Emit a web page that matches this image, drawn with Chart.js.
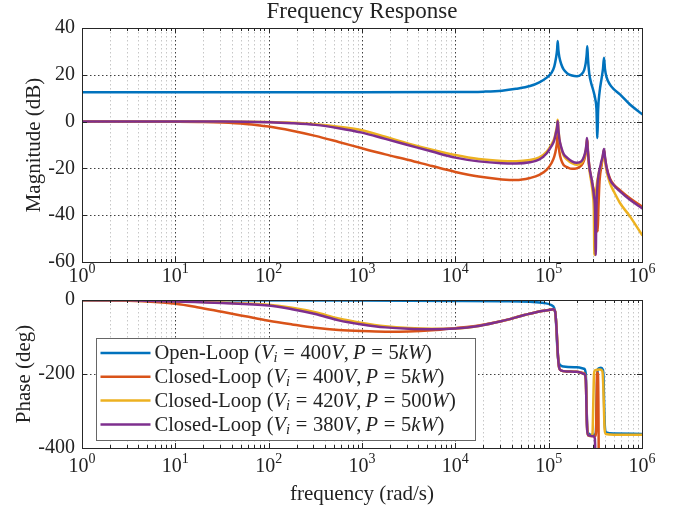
<!DOCTYPE html>
<html lang="en">

<head>
    <meta charset="UTF-8">
    <title>Frequency Response</title>
    <script src="https://cdn.jsdelivr.net/npm/chart.js"></script>
    <style>
        body {
            margin: 0;
            background-color: #FFFFFF;
        }

        #figure {
            position: relative;
            width: 679px;
            height: 513px;
            background-color: #FFFFFF;
        }

        #magCanvas {
            position: absolute;
            left: 0;
            top: 0;
        }

        #phaseCanvas {
            position: absolute;
            left: 0;
            top: 290px;
        }
    </style>
</head>

<body>
    <div id="figure">
        <canvas id="magCanvas" width="679" height="290"></canvas>
        <canvas id="phaseCanvas" width="679" height="223"></canvas>
    </div>

    <script>
        // axis ticks
        const decades = [0, 1, 2, 3, 4, 5, 6];
        const magTicks = [40, 20, 0, -20, -40, -60];
        const phaseTicks = [0, -200, -400];

        const seriesNames = [
            'Open-Loop $(V_i = 400V, P = 5kW)$',
            'Closed-Loop $(V_i = 400V, P = 5kW)$',
            'Closed-Loop $(V_i = 420V, P = 500W)$',
            'Closed-Loop $(V_i = 380V, P = 5kW)$'
        ];
        const seriesColors = ['#0072BD', '#D95319', '#EDB120', '#7E2F8E'];

        // ---- magnitude (dB) ----
        const olMagW = [1, 10, 100, 1e3, 1e4, 2.0e4, 3.16e4, 4.47e4, 6.31e4, 7.94e4, 9.55e4, 1.07e5, 1.148e5, 1.202e5, 1.23e5,
            1.25e5, 1.271e5, 1.303e5, 1.365e5, 1.445e5, 1.585e5, 1.778e5, 1.995e5, 2.239e5, 2.399e5, 2.495e5, 2.553e5, 2.594e5,
            2.636e5, 2.723e5, 2.851e5, 3.013e5, 3.162e5, 3.251e5, 3.327e5, 3.388e5, 3.508e5, 3.698e5, 3.819e5, 3.917e5, 4.009e5,
            4.169e5, 4.539e5, 5.012e5, 5.808e5, 7.43e5, 1e6];
        const olMag = [12.5, 12.5, 12.5, 12.5, 12.6, 12.8, 13.2, 14.0, 15.2, 16.8, 18.8, 20.8, 23.5, 27.5, 30.5,
            34.4, 30.5, 27.5, 24.5, 22.3, 20.6, 19.7, 19.4, 20.2, 22.0, 25.0, 28.5, 32.2,
            27.0, 20.5, 16.5, 13.2, 9.5, 5.5, -7.0, 5.0, 12.5, 18.7, 22.5, 27.3, 22.5,
            19.0, 15.8, 13.8, 11.6, 7.3, 3.2];

        const cl400MagW = [1, 10, 20, 31.6, 56.2, 100, 178, 316, 562, 1000, 1778, 3162, 5623, 1e4, 1.778e4, 3.162e4, 4.467e4,
            6.31e4, 7.94e4, 9.55e4, 1.07e5, 1.148e5, 1.202e5, 1.23e5, 1.25e5, 1.271e5, 1.303e5, 1.365e5, 1.445e5, 1.585e5,
            1.778e5, 1.995e5, 2.239e5, 2.399e5, 2.495e5, 2.553e5, 2.594e5, 2.636e5, 2.723e5, 2.851e5, 3.013e5, 3.162e5,
            3.273e5, 3.35e5, 3.412e5, 3.508e5, 3.698e5, 3.819e5, 3.917e5, 4.009e5, 4.169e5, 4.539e5, 5.012e5, 5.808e5,
            7.43e5, 1e6];
        const cl400Mag = [0, -0.05, -0.15, -0.4, -1.0, -2.1, -3.9, -6.1, -8.7, -11.4, -14.0, -16.4, -19.0, -21.5, -23.5, -24.7, -25.0,
            -24.1, -22.8, -20.5, -17.8, -15.0, -11.5, -8.5, -4.5, -8.5, -13.0, -16.5, -18.5, -19.5,
            -20.2, -20.0, -18.8, -16.5, -13.5, -10.5, -8.0, -12.5, -19.0, -24.0, -28.5, -32.5,
            -37, -47, -37, -25.5, -18.5, -15.0, -12.0, -15.5, -19.5, -24.3, -27.0, -29.3,
            -32.8, -36.3];

        const cl420MagW = [1, 31.6, 100, 178, 316, 562, 1000, 1778, 3162, 5623, 1e4, 1.778e4, 3.162e4, 4.467e4, 6.31e4,
            7.94e4, 9.55e4, 1.07e5, 1.148e5, 1.202e5, 1.23e5, 1.25e5, 1.271e5, 1.303e5, 1.365e5, 1.445e5, 1.585e5, 1.778e5,
            1.995e5, 2.239e5, 2.399e5, 2.495e5, 2.541e5, 2.576e5, 2.618e5, 2.723e5, 2.891e5, 2.992e5, 3.048e5, 3.09e5,
            3.141e5, 3.236e5, 3.467e5, 3.606e5, 3.784e5, 3.917e5, 4.009e5, 4.169e5, 4.539e5, 5.012e5, 5.808e5, 7.43e5, 1e6];
        const cl420Mag = [0, 0, -0.2, -0.5, -1.1, -2.2, -3.7, -6.5, -9.4, -12.0, -14.3, -16.0, -16.8, -16.9, -16.4,
            -15.3, -12.8, -9.8, -7.3, -3.8, -1.8, 0.8, -3.0, -7.5, -11.5, -14.5, -16.3, -17.8,
            -18.4, -17.8, -15.5, -12.5, -10.0, -7.5, -12.0, -20.0, -27.0, -32, -38, -57,
            -38, -29, -21.5, -19.5, -15.5, -12.5, -16.5, -21.0, -26.3, -30.0, -34.8, -40.5, -48.4];

        const cl380MagW = [1, 31.6, 100, 178, 316, 562, 1000, 1778, 3162, 5623, 1e4, 1.778e4, 3.162e4, 4.467e4, 6.31e4,
            7.94e4, 9.55e4, 1.07e5, 1.148e5, 1.202e5, 1.23e5, 1.25e5, 1.271e5, 1.303e5, 1.365e5, 1.445e5, 1.585e5, 1.778e5,
            1.995e5, 2.239e5, 2.399e5, 2.495e5, 2.541e5, 2.576e5, 2.618e5, 2.723e5, 2.891e5, 3.062e5, 3.141e5, 3.192e5,
            3.243e5, 3.327e5, 3.606e5, 3.784e5, 3.917e5, 4.009e5, 4.169e5, 4.539e5, 5.012e5, 5.808e5, 7.43e5, 1e6];
        const cl380Mag = [0, 0, -0.3, -0.7, -1.4, -2.8, -4.7, -7.4, -10.1, -12.8, -15.4, -17.0, -17.8, -17.9, -17.4,
            -16.2, -13.5, -10.5, -8.0, -4.5, -2.5, 0.1, -3.5, -7.5, -11.0, -13.8, -15.5, -17.0,
            -17.6, -17.0, -14.8, -12.0, -9.5, -7.0, -11.5, -19.0, -24.8, -32.0, -38, -57,
            -38, -27.7, -18.4, -15.0, -11.7, -15.0, -19.5, -24.8, -27.3, -29.8, -33.4, -37.0];

        // ---- phase (deg) ----
        const olPhW = [1, 1000, 1e4, 3.162e4, 6.31e4, 8.91e4, 1.07e5, 1.148e5, 1.189e5, 1.216e5, 1.245e5, 1.274e5, 1.318e5,
            1.445e5, 1.995e5, 2.399e5, 2.5e5, 2.541e5, 2.582e5, 2.63e5, 2.818e5, 3.162e5, 3.221e5, 3.273e5, 3.327e5,
            3.388e5, 3.631e5, 3.802e5, 3.873e5, 3.936e5, 4.009e5, 4.121e5, 5.012e5, 1e6];
        const olPh = [-0.5, -1.5, -2.5, -3.5, -5, -8, -14, -22, -45, -90, -140, -165, -175,
            -180, -182, -186, -200, -270, -340, -358, -364, -364, -350, -275, -200,
            -186, -183, -188, -210, -290, -345, -358, -361, -362];

        const cl400PhW = [1, 3.16, 10, 17.8, 31.6, 56.2, 100, 178, 316, 562, 1000, 1778, 3162, 5623, 1e4, 1.778e4,
            3.162e4, 5.623e4, 7.94e4, 1e5, 1.122e5, 1.175e5, 1.216e5, 1.25e5, 1.288e5, 1.349e5, 1.585e5, 1.995e5,
            2.399e5, 2.5e5, 2.547e5, 2.594e5, 2.661e5, 3.162e5, 3.221e5, 3.258e5, 3.296e5, 3.373e5, 3.412e5, 3.451e5,
            3.508e5, 3.802e5, 3.917e5, 4.169e5, 1e6];
        const cl400Ph = [-0.5, -2, -10, -20, -32, -44, -56, -66, -75, -81, -84, -85.5, -85, -82, -76, -69,
            -57, -40, -31, -27, -25, -32, -80, -140, -180, -190, -193, -194,
            -198, -215, -290, -350, -366, -368, -355, -270, -195, -200, -280, -480,
            -545, -550, -640, -725, -730];

        const cl420PhW = [1, 3.16, 10, 31.6, 100, 178, 316, 562, 1000, 1778, 3162, 5623, 1e4, 1.778e4, 3.162e4,
            5.623e4, 7.94e4, 1e5, 1.122e5, 1.175e5, 1.216e5, 1.25e5, 1.288e5, 1.349e5, 1.585e5, 1.995e5, 2.399e5,
            2.5e5, 2.541e5, 2.582e5, 2.661e5, 2.884e5, 2.951e5, 3.006e5, 3.062e5, 3.126e5, 3.548e5, 3.758e5, 3.846e5,
            3.917e5, 3.981e5, 4.093e5, 5.012e5, 1e6];
        const cl420Ph = [-0.3, -1, -3.5, -7, -13, -21, -33, -50, -62, -71, -76, -78, -77, -70, -57,
            -40, -31, -27, -25, -32, -80, -140, -180, -190, -193, -194, -200,
            -215, -290, -350, -366, -368, -360, -280, -200, -190, -188, -192, -230,
            -300, -350, -362, -364, -364];

        const cl380PhW = [1, 3.16, 10, 31.6, 100, 178, 316, 562, 1000, 1778, 3162, 5623, 1e4, 1.778e4, 3.162e4,
            5.623e4, 7.94e4, 1e5, 1.122e5, 1.175e5, 1.216e5, 1.25e5, 1.288e5, 1.349e5, 1.585e5, 1.995e5, 2.399e5,
            2.5e5, 2.541e5, 2.582e5, 2.661e5, 3.02e5, 3.126e5, 3.177e5, 3.236e5, 3.548e5, 3.846e5, 3.917e5, 4.009e5, 1e6];
        const cl380Ph = [-0.3, -1, -4, -8, -15, -25, -38, -55, -66, -74, -78, -79, -77, -70, -57,
            -40, -31, -27, -25, -32, -80, -140, -180, -190, -193, -194, -200,
            -215, -290, -350, -366, -368, -375, -450, -540, -548, -560, -640, -720, -730];

        const FONT = '"Liberation Serif", "Times New Roman", serif';
        const TEXT_COLOR = '#222222';

        function toPoints(w, v) {
            return w.map((x, i) => ({ x: x, y: v[i] }));
        }

        function makeDatasets(pairs) {
            return pairs.map((p, i) => ({
                label: seriesNames[i],
                data: toPoints(p[0], p[1]),
                borderColor: seriesColors[i],
                order: 4 - i   // later series on top
            }));
        }

        // tiny TeX-ish text: $...$ switches to math (letters italic, own spacing), _x subscript, ^x superscript
        function richRuns(str, size) {
            const runs = [];
            let math = false;
            for (let i = 0; i < str.length; i++) {
                const c = str[i];
                if (c === '$') { math = !math; continue; }
                if (math && c === ' ') continue;
                if (c === '_' || c === '^') {
                    const n = str[++i];
                    runs.push({
                        t: n, italic: math && /[A-Za-z]/.test(n), size: size * 0.7,
                        dy: c === '_' ? size * 0.22 : -size * 0.45, pre: 0, post: 0
                    });
                    continue;
                }
                let pre = 0, post = 0;
                if (math && c === '=') { pre = size * 0.28; post = size * 0.28; }
                if (math && c === ',') { post = size * 0.2; }
                runs.push({ t: c, italic: math && /[A-Za-z]/.test(c), size: size, dy: 0, pre: pre, post: post });
            }
            return runs;
        }

        function runFont(r) {
            return (r.italic ? 'italic ' : '') + r.size + 'px ' + FONT;
        }

        function drawRich(ctx, str, x, y, size, align) {
            const runs = richRuns(str, size);
            let total = 0;
            runs.forEach(r => {
                ctx.font = runFont(r);
                r.w = ctx.measureText(r.t).width;
                total += r.w + r.pre + r.post;
            });
            let cx = x;
            if (align === 'center') cx = x - total / 2;
            if (align === 'right') cx = x - total;
            ctx.textAlign = 'left';
            runs.forEach(r => {
                ctx.font = runFont(r);
                cx += r.pre;
                ctx.fillText(r.t, cx, y + r.dy);
                cx += r.w + r.post;
            });
        }

        function dottedLine(ctx, x1, y1, x2, y2, color, dash) {
            ctx.beginPath();
            ctx.strokeStyle = color;
            ctx.lineWidth = 1;
            ctx.setLineDash(dash);
            ctx.moveTo(x1, y1);
            ctx.lineTo(x2, y2);
            ctx.stroke();
        }

        // MATLAB style box, grid, ticks and labels
        function axesPlugin(cfg) {
            return {
                id: 'matlabAxes',
                beforeDatasetsDraw(chart) {
                    const { ctx, chartArea: a, scales: { x, y } } = chart;
                    ctx.save();
                    // minor x grid
                    for (let e = 0; e < 6; e++) {
                        for (let k = 2; k <= 9; k++) {
                            const px = Math.round(x.getPixelForValue(k * Math.pow(10, e))) + 0.5;
                            dottedLine(ctx, px, a.top, px, a.bottom, 'rgba(0,0,0,0.22)', [1.5, 2.5]);
                        }
                    }
                    // major grid
                    decades.slice(1, -1).forEach(e => {
                        const px = Math.round(x.getPixelForValue(Math.pow(10, e))) + 0.5;
                        dottedLine(ctx, px, a.top, px, a.bottom, 'rgba(0,0,0,0.75)', [1.5, 2.5]);
                    });
                    cfg.yTicks.slice(1, -1).forEach(v => {
                        const py = Math.round(y.getPixelForValue(v)) + 0.5;
                        dottedLine(ctx, a.left, py, a.right, py, 'rgba(0,0,0,0.75)', [1.5, 2.5]);
                    });
                    ctx.restore();
                },
                afterDraw(chart) {
                    const { ctx, chartArea: a, scales: { x, y } } = chart;
                    ctx.save();
                    ctx.setLineDash([]);
                    ctx.strokeStyle = '#262626';
                    ctx.lineWidth = 1;

                    // tick marks on all four sides, pointing inward
                    ctx.beginPath();
                    for (let e = 0; e < 6; e++) {
                        for (let k = 1; k <= 9; k++) {
                            const px = Math.round(x.getPixelForValue(k * Math.pow(10, e))) + 0.5;
                            const len = k === 1 ? 5 : 3;
                            ctx.moveTo(px, a.bottom);
                            ctx.lineTo(px, a.bottom - len);
                            ctx.moveTo(px, a.top);
                            ctx.lineTo(px, a.top + len);
                        }
                    }
                    cfg.yTicks.forEach(v => {
                        const py = Math.round(y.getPixelForValue(v)) + 0.5;
                        ctx.moveTo(a.left, py);
                        ctx.lineTo(a.left + 5, py);
                        ctx.moveTo(a.right, py);
                        ctx.lineTo(a.right - 5, py);
                    });
                    ctx.stroke();

                    // box
                    ctx.strokeRect(Math.round(a.left) + 0.5, Math.round(a.top) + 0.5,
                        Math.round(a.right - a.left), Math.round(a.bottom - a.top));

                    ctx.fillStyle = TEXT_COLOR;
                    ctx.textBaseline = 'alphabetic';

                    // x tick labels 10^n
                    decades.forEach(e => {
                        drawRich(ctx, '10^' + e, x.getPixelForValue(Math.pow(10, e)), a.bottom + cfg.xLabelOffset, 20, 'center');
                    });

                    // y tick labels
                    ctx.textBaseline = 'middle';
                    cfg.yTicks.forEach(v => {
                        drawRich(ctx, String(v), a.left - 7, y.getPixelForValue(v), 20, 'right');
                    });

                    // y axis title
                    ctx.save();
                    ctx.translate(cfg.yTitleX, (a.top + a.bottom) / 2);
                    ctx.rotate(-Math.PI / 2);
                    ctx.textBaseline = 'middle';
                    drawRich(ctx, cfg.yTitle, 0, 0, 21, 'center');
                    ctx.restore();

                    ctx.textBaseline = 'alphabetic';
                    const cx = (a.left + a.right) / 2;
                    if (cfg.title) {
                        drawRich(ctx, cfg.title, cx, 18, 23, 'center');
                    }
                    if (cfg.xTitle) {
                        drawRich(ctx, cfg.xTitle, cx, a.bottom + 52, 21, 'center');
                    }
                    if (cfg.legend) {
                        drawLegend(ctx, a);
                    }
                    ctx.restore();
                }
            };
        }

        function drawLegend(ctx, a) {
            const bx = a.left + 14.5, by = a.top + 38.5, bw = 379, bh = 102;
            ctx.fillStyle = '#FFFFFF';
            ctx.fillRect(bx, by, bw, bh);
            ctx.strokeStyle = '#666666';
            ctx.lineWidth = 1;
            ctx.setLineDash([]);
            ctx.strokeRect(bx, by, bw, bh);

            seriesNames.forEach((name, i) => {
                const ry = by + 14.5 + i * 23.8;
                ctx.beginPath();
                ctx.strokeStyle = seriesColors[i];
                ctx.lineWidth = 2.5;
                ctx.moveTo(bx + 4, ry);
                ctx.lineTo(bx + 54, ry);
                ctx.stroke();
                ctx.fillStyle = TEXT_COLOR;
                ctx.textBaseline = 'middle';
                drawRich(ctx, name, bx + 58, ry + 1, 20.5, 'left');
            });
        }

        function makeChart(canvasId, datasets, yMin, yMax, padding, cfg) {
            return new Chart(document.getElementById(canvasId).getContext('2d'), {
                type: 'line',
                data: { datasets: datasets },
                options: {
                    responsive: false,
                    animation: false,
                    layout: { padding: padding },
                    elements: {
                        point: { radius: 0 },
                        line: {
                            borderWidth: 2.5,
                            cubicInterpolationMode: 'monotone',
                            borderJoinStyle: 'round',
                            borderCapStyle: 'round',
                            fill: false
                        }
                    },
                    plugins: {
                        legend: { display: false },
                        tooltip: { enabled: false },
                        title: { display: false }
                    },
                    scales: {
                        x: { type: 'logarithmic', min: 1, max: 1e6, display: false },
                        y: { type: 'linear', min: yMin, max: yMax, display: false }
                    }
                },
                plugins: [axesPlugin(cfg)]
            });
        }

        makeChart('magCanvas',
            makeDatasets([[olMagW, olMag], [cl400MagW, cl400Mag], [cl420MagW, cl420Mag], [cl380MagW, cl380Mag]]),
            -60, 40,
            { left: 82, right: 37, top: 28, bottom: 28 },
            { yTicks: magTicks, yTitle: 'Magnitude (dB)', yTitleX: 34, title: 'Frequency Response', xLabelOffset: 20 });

        makeChart('phaseCanvas',
            makeDatasets([[olPhW, olPh], [cl400PhW, cl400Ph], [cl420PhW, cl420Ph], [cl380PhW, cl380Ph]]),
            -400, 0,
            { left: 82, right: 37, top: 10, bottom: 65 },
            { yTicks: phaseTicks, yTitle: 'Phase (deg)', yTitleX: 24, xTitle: 'frequency (rad/s)', xLabelOffset: 24, legend: true });
    </script>
</body>

</html>
